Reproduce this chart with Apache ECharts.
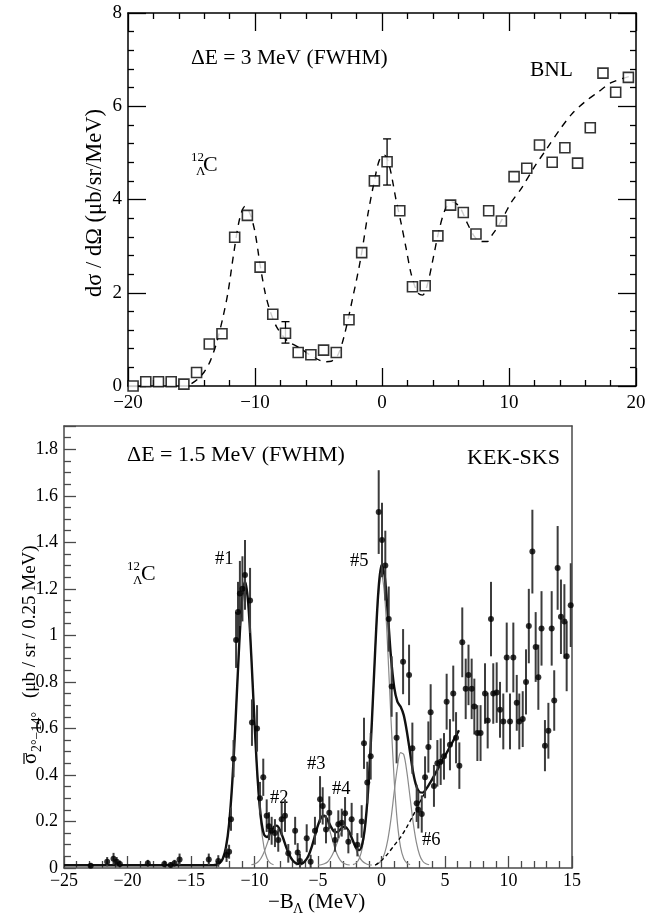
<!DOCTYPE html>
<html><head><meta charset="utf-8">
<script src="https://cdn.jsdelivr.net/npm/echarts@6/dist/echarts.min.js"></script>
<style>html,body{margin:0;padding:0;background:#fff}#c{width:646px;height:919px}</style>
</head><body><div id="c"></div><script>
// ---------- Top panel (BNL) data ----------
const bnlX = [-19.6,-18.6,-17.6,-16.6,-15.6,-14.6,-13.6,-12.6,-11.6,-10.6,
              -9.6,-8.6,-7.6,-6.6,-5.6,-4.6,-3.6,-2.6,-1.6,-0.6,
              0.4,1.4,2.4,3.4,4.4,5.4,6.4,7.4,8.4,9.4,
              10.4,11.4,12.4,13.4,14.4,15.4,16.4,17.4,18.4,19.4];
const bnlY = [0.00,0.09,0.09,0.09,0.04,0.29,0.90,1.12,3.19,3.66,
              2.55,1.54,1.13,0.72,0.67,0.77,0.72,1.42,2.86,4.40,
              4.81,3.76,2.13,2.15,3.22,3.88,3.72,3.26,3.76,3.54,
              4.49,4.67,5.17,4.80,5.11,4.78,5.54,6.71,6.30,6.62];
const bnlErrX  = [-7.6, 0.4];
const bnlErrLo = [0.92, 4.31];
const bnlErrHi = [1.38, 5.30];
const bnlFitX = [-15.0,-14.5,-14.0,-13.5,-13.0,-12.5,-12.1,-11.7,-11.2,-10.8,
                 -10.4,-10.0,-9.6,-9.2,-8.8,-8.3,-7.5,-6.5,-5.4,-4.5,
                 -4.0,-3.5,-3.0,-2.3,-1.7,-1.1,-0.6,-0.2,0.2,0.6,
                 1.1,1.5,1.9,2.3,2.8,3.2,3.6,4.0,4.5,5.0,
                 5.5,6.1,6.7,7.3,7.8,8.3,8.7,9.2,9.7,10.2,
                 11.0,12.0,13.0,14.0,15.0,16.0,17.0,18.0,19.0,19.6];
const bnlFitY = [0.05,0.15,0.30,0.55,0.95,1.50,2.05,2.80,3.60,3.85,
                 3.70,3.30,2.60,2.00,1.60,1.27,0.98,0.82,0.62,0.52,
                 0.53,0.65,1.05,1.90,2.70,3.70,4.40,4.85,4.95,4.70,
                 4.00,3.50,2.95,2.40,2.00,1.95,2.20,2.70,3.35,3.80,
                 3.95,3.85,3.50,3.20,3.10,3.10,3.25,3.45,3.70,3.95,
                 4.25,4.70,5.10,5.50,5.85,6.10,6.30,6.50,6.60,6.65];

// ---------- Bottom panel (KEK-SKS) data ----------
const kekX = [-22.9,-21.6,-21.1,-20.85,-20.6,-18.4,-17.1,-16.6,-16.3,-15.9,
              -13.6,-12.85,-12.2,-12.0,-11.85,-11.65,-11.45,-11.3,-11.15,-10.95,
              -10.75,-10.35,-10.2,-9.8,-9.57,-9.31,-9.04,-8.86,-8.65,-8.39,
              -8.13,-7.86,-7.6,-7.34,-6.8,-6.6,-6.42,-5.89,-5.58,-5.24,
              -4.84,-4.63,-4.37,-4.11,-3.66,-3.4,-3.13,-2.87,-2.61,-2.35,
              -1.9,-1.56,-1.38,-1.12,-0.85,-0.22,0.04,0.3,0.57,0.8,
              1.19,1.7,2.17,2.43,2.77,2.9,3.17,3.43,3.69,3.87,
              4.13,4.4,4.66,4.92,5.13,5.39,5.65,5.87,6.13,6.36,
              6.63,6.85,7.1,7.31,7.55,7.8,8.15,8.36,8.62,8.8,
              9.07,9.33,9.59,9.86,10.12,10.38,10.65,10.85,11.12,11.38,
              11.6,11.88,12.14,12.35,12.6,12.87,13.14,13.4,13.6,13.87,
              14.13,14.4,14.58,14.9];
const kekY = [0.01,0.027,0.04,0.027,0.017,0.02,0.017,0.013,0.02,0.037,
              0.037,0.03,0.056,0.07,0.21,0.47,0.98,1.10,1.18,1.20,
              1.26,1.15,0.625,0.60,0.30,0.39,0.225,0.18,0.16,0.15,
              0.12,0.21,0.225,0.063,0.16,0.067,0.03,0.128,0.027,0.16,
              0.295,0.267,0.166,0.238,0.12,0.188,0.195,0.235,0.113,0.21,
              0.10,0.20,0.536,0.367,0.48,1.53,1.41,1.30,1.07,0.78,
              0.56,0.887,0.83,0.515,0.278,0.25,0.232,0.39,0.52,0.67,
              0.353,0.45,0.457,0.48,0.715,0.53,0.75,0.56,0.44,0.97,
              0.77,0.83,0.77,0.694,0.58,0.58,0.75,0.634,1.07,0.75,
              0.754,0.68,0.63,0.905,0.63,0.905,0.71,0.63,0.64,0.80,
              1.04,1.36,0.95,0.82,1.03,0.526,0.59,1.03,0.72,1.29,
              1.08,1.06,0.91,1.13];
const kekErr = [0.012,0.02,0.025,0.02,0.015,0.015,0.015,0.012,0.015,0.025,
                0.025,0.025,0.03,0.03,0.05,0.08,0.12,0.13,0.14,0.14,
                0.15,0.14,0.10,0.10,0.07,0.08,0.07,0.06,0.06,0.06,
                0.05,0.07,0.07,0.04,0.06,0.04,0.03,0.06,0.03,0.06,
                0.10,0.08,0.06,0.07,0.05,0.06,0.06,0.07,0.05,0.07,
                0.05,0.07,0.11,0.09,0.10,0.18,0.16,0.15,0.14,0.13,
                0.11,0.14,0.13,0.11,0.08,0.08,0.08,0.09,0.11,0.12,
                0.09,0.10,0.10,0.10,0.12,0.11,0.12,0.11,0.10,0.15,
                0.13,0.13,0.13,0.12,0.12,0.12,0.13,0.12,0.16,0.13,
                0.13,0.12,0.12,0.15,0.12,0.15,0.12,0.12,0.12,0.14,
                0.16,0.18,0.15,0.14,0.16,0.11,0.12,0.16,0.13,0.18,
                0.16,0.16,0.15,0.18];

// total fit (thick black)
const fitX = [-25,-13.25,-13,-12.75,-12.5,-12.25,-12,-11.75,-11.5,-11.25,
              -11,-10.75,-10.5,-10.25,-10,-9.75,-9.5,-9.25,-9,-8.75,
              -8.5,-8.25,-8,-7.75,-7.5,-7.25,-7,-6.75,-6.5,-6.25,
              -6,-5.75,-5.5,-5.25,-5,-4.75,-4.5,-4.25,-4,-3.75,
              -3.5,-3.25,-3,-2.75,-2.5,-2.25,-2,-1.75,-1.5,-1.25,
              -1,-0.75,-0.5,-0.25,0,0.25,0.5,0.75,1,1.25,
              1.5,1.75,2,2.25,2.5,2.75,3,3.25,3.5,3.75,
              4,4.5,5,5.5,6,6.1];
const fitY = [0.012,0.012,0.014,0.021,0.040,0.088,0.190,0.368,0.622,0.909,
              1.142,1.232,1.142,0.909,0.627,0.381,0.219,0.144,0.133,0.154,
              0.176,0.182,0.164,0.129,0.089,0.056,0.033,0.021,0.018,0.019,
              0.031,0.053,0.090,0.137,0.184,0.218,0.225,0.207,0.179,0.158,
              0.154,0.165,0.177,0.173,0.150,0.117,0.087,0.077,0.107,0.202,
              0.379,0.638,0.933,1.186,1.303,1.256,1.091,0.904,0.777,0.715,
              0.694,0.657,0.586,0.496,0.408,0.351,0.326,0.324,0.338,0.359,
              0.382,0.432,0.482,0.532,0.582,0.592];
// individual peak components (thin gray)
const comp1X = [-13,-12.75,-12.5,-12.25,-12,-11.75,-11.5,-11.25,-11,-10.75,-10.5,-10.25,-10,-9.75,-9.5,-9.25,-9,-8.75,-8.5];
const comp1Y = [0.014,0.021,0.040,0.088,0.190,0.368,0.622,0.909,1.142,1.232,1.142,0.909,0.622,0.368,0.190,0.088,0.040,0.021,0.014];
const comp2X = [-10.25,-10,-9.75,-9.5,-9.25,-9,-8.75,-8.5,-8.25,-8,-7.75,-7.5,-7.25,-7,-6.75,-6.5,-6.25];
const comp2Y = [0.014,0.017,0.025,0.041,0.068,0.105,0.145,0.174,0.182,0.164,0.129,0.089,0.056,0.033,0.021,0.015,0.013];
const comp3X = [-6.75,-6.5,-6.25,-6,-5.75,-5.5,-5.25,-5,-4.75,-4.5,-4.25,-4,-3.75,-3.5,-3.25,-3,-2.75,-2.5];
const comp3Y = [0.013,0.015,0.019,0.031,0.053,0.090,0.137,0.184,0.216,0.219,0.193,0.147,0.099,0.059,0.034,0.021,0.015,0.013];
const comp4X = [-5,-4.75,-4.5,-4.25,-4,-3.75,-3.5,-3.25,-3,-2.75,-2.5,-2.25,-2,-1.75,-1.5,-1.25,-1,-0.75];
const comp4Y = [0.013,0.014,0.018,0.026,0.044,0.071,0.107,0.143,0.168,0.170,0.150,0.114,0.078,0.048,0.029,0.019,0.014,0.013];
const comp5X = [-2.25,-2,-1.75,-1.5,-1.25,-1,-0.75,-0.5,-0.25,0,0.25,0.5,0.75,1,1.25,1.5,1.75,2,2.25];
const comp5Y = [0.0145,0.021,0.041,0.090,0.195,0.377,0.637,0.931,1.169,1.262,1.169,0.931,0.637,0.377,0.195,0.090,0.041,0.021,0.0145];
const comp6X = [-0.5,-0.25,0,0.25,0.5,0.75,1,1.25,1.5,1.75,2,2.25,2.5,2.75,3,3.25,3.5,3.75];
const comp6Y = [0.014,0.019,0.033,0.064,0.122,0.212,0.327,0.432,0.496,0.488,0.412,0.303,0.193,0.109,0.056,0.029,0.018,0.014];
// continuum (dashed)
const bgX = [-0.5,0,0.5,1,1.5,2,2.5,3,3.5];
const bgY = [0.012,0.032,0.062,0.097,0.132,0.177,0.227,0.282,0.332];

// ---------- chart ----------
const SERIF = '"Liberation Serif", "Times New Roman", serif';
const fmt = v => v < 0 ? '\u2212' + Math.abs(v) : String(v);
const zip = (a, b) => a.map((x, i) => [x, b[i]]);

function makeAxis(grid, pos, o) {
  return Object.assign({
    type: 'value', gridIndex: grid, position: pos, scale: false,
    axisLine: { show: true, onZero: false, lineStyle: { color: o.color, width: 1.5 } },
    axisTick: { show: o.ticks, inside: true, length: o.major, lineStyle: { color: o.color, width: 1.3 } },
    minorTick: { show: o.ticks, splitNumber: o.minorSplit, length: o.minor, lineStyle: { color: o.color, width: 1.3 } },
    axisLabel: { show: o.labels, color: '#000', fontFamily: SERIF, fontSize: o.fs, margin: o.margin, formatter: fmt,
                 showMinLabel: true, showMaxLabel: o.showMax !== false, hideOverlap: false },
    splitLine: { show: false }, minorSplitLine: { show: false }
  }, o.range);
}

const chart = echarts.init(document.getElementById('c'), null, { renderer: 'canvas' });
const T = { color: '#000', ticks: true, major: 18, minor: 6, fs: 19 };
const B = { color: '#4a4a4a', ticks: true, major: 12, minor: 7, fs: 18 };
const BN = { color: '#4a4a4a', ticks: false, major: 0, minor: 0, fs: 18 };
const a = (...objs) => Object.assign({}, ...objs);
const topX = { min: -20, max: 20, interval: 10 };
const topY = { min: 0, max: 8, interval: 2 };
const botX = { min: -25, max: 15, interval: 5 };
const botY = { min: 0, max: 1.9, interval: 0.2 };

const option = {
  animation: false,
  backgroundColor: '#fff',
  grid: [
    { left: 128, top: 13, width: 508, height: 373, show: false, outerBoundsMode: 'none', containLabel: false },
    { left: 64, top: 426, width: 508, height: 442, show: false, outerBoundsMode: 'none', containLabel: false }
  ],
  xAxis: [
    makeAxis(0, 'bottom', a(T, { labels: true, margin: 8, minorSplit: 5, range: topX })),
    makeAxis(0, 'top', a(T, { labels: false, margin: 8, minorSplit: 5, range: topX })),
    makeAxis(1, 'bottom', a(B, { labels: true, margin: 4, minorSplit: 5, range: botX })),
    makeAxis(1, 'top', a(BN, { labels: false, margin: 4, minorSplit: 5, range: botX }))
  ],
  yAxis: [
    makeAxis(0, 'left', a(T, { labels: true, margin: 6, minorSplit: 5, range: topY })),
    makeAxis(0, 'right', a(T, { labels: false, margin: 6, minorSplit: 5, range: topY })),
    makeAxis(1, 'left', a(B, { labels: true, margin: 6, minorSplit: 4, showMax: false, range: botY })),
    makeAxis(1, 'right', a(BN, { labels: false, margin: 6, minorSplit: 4, range: botY }))
  ],
  series: [
    { type: 'line', xAxisIndex: 0, yAxisIndex: 0, data: zip(bnlFitX, bnlFitY), showSymbol: false, smooth: 0.3,
      lineStyle: { color: '#000', width: 1.4, type: [7, 6] }, z: 2, silent: true },
    { type: 'custom', xAxisIndex: 0, yAxisIndex: 0, silent: true, z: 3,
      data: bnlErrX.map((x, i) => [x, bnlErrLo[i], bnlErrHi[i]]), encode: { x: 0, y: [1, 2] },
      renderItem: (p, api) => {
        const a = api.coord([api.value(0), api.value(1)]), b = api.coord([api.value(0), api.value(2)]);
        const st = { stroke: '#000', lineWidth: 1.3 };
        return { type: 'group', children: [
          { type: 'line', shape: { x1: a[0], y1: a[1], x2: b[0], y2: b[1] }, style: st },
          { type: 'line', shape: { x1: a[0] - 4, y1: a[1], x2: a[0] + 4, y2: a[1] }, style: st },
          { type: 'line', shape: { x1: b[0] - 4, y1: b[1], x2: b[0] + 4, y2: b[1] }, style: st }
        ] };
      } },
    { type: 'scatter', xAxisIndex: 0, yAxisIndex: 0, data: zip(bnlX, bnlY), symbol: 'rect', symbolSize: 10,
      itemStyle: { color: '#fff', borderColor: '#000', borderWidth: 1.6 }, z: 5, silent: true },

    { type: 'line', xAxisIndex: 2, yAxisIndex: 2, data: zip(comp1X, comp1Y), showSymbol: false, smooth: 0.3, lineStyle: { color: '#8a8a8a', width: 1.2 }, z: 2, silent: true },
    { type: 'line', xAxisIndex: 2, yAxisIndex: 2, data: zip(comp2X, comp2Y), showSymbol: false, smooth: 0.3, lineStyle: { color: '#8a8a8a', width: 1.2 }, z: 2, silent: true },
    { type: 'line', xAxisIndex: 2, yAxisIndex: 2, data: zip(comp3X, comp3Y), showSymbol: false, smooth: 0.3, lineStyle: { color: '#8a8a8a', width: 1.2 }, z: 2, silent: true },
    { type: 'line', xAxisIndex: 2, yAxisIndex: 2, data: zip(comp4X, comp4Y), showSymbol: false, smooth: 0.3, lineStyle: { color: '#8a8a8a', width: 1.2 }, z: 2, silent: true },
    { type: 'line', xAxisIndex: 2, yAxisIndex: 2, data: zip(comp5X, comp5Y), showSymbol: false, smooth: 0.3, lineStyle: { color: '#8a8a8a', width: 1.2 }, z: 2, silent: true },
    { type: 'line', xAxisIndex: 2, yAxisIndex: 2, data: zip(comp6X, comp6Y), showSymbol: false, smooth: 0.3, lineStyle: { color: '#8a8a8a', width: 1.2 }, z: 2, silent: true },
    { type: 'line', xAxisIndex: 2, yAxisIndex: 2, data: zip(bgX, bgY), showSymbol: false, smooth: 0.3, lineStyle: { color: '#000', width: 1.4, type: [4, 3] }, z: 2, silent: true },
    { type: 'line', xAxisIndex: 2, yAxisIndex: 2, data: zip(fitX, fitY), showSymbol: false, smooth: 0.3, lineStyle: { color: '#111', width: 2.4 }, z: 3, silent: true },
    { type: 'custom', xAxisIndex: 2, yAxisIndex: 2, silent: true, z: 4,
      data: kekX.map((x, i) => [x, kekY[i], kekErr[i]]), encode: { x: 0, y: 1 },
      renderItem: (p, api) => {
        const x = api.value(0), y = api.value(1), e = api.value(2);
        const a = api.coord([x, Math.max(0, y - e)]), b = api.coord([x, y + e]);
        return { type: 'line', shape: { x1: a[0], y1: a[1], x2: b[0], y2: b[1] }, style: { stroke: '#3c3c3c', lineWidth: 2 } };
      } },
    { type: 'scatter', xAxisIndex: 2, yAxisIndex: 2, data: zip(kekX, kekY), symbol: 'circle', symbolSize: 6,
      itemStyle: { color: '#000' }, z: 5, silent: true }
  ],
  graphic: [
    // top panel texts
    { type: 'text', x: 191, y: 58, style: { text: '\u0394E = 3 MeV (FWHM)', font: '21.5px ' + SERIF, fill: '#000', verticalAlign: 'middle' } },
    { type: 'text', x: 530, y: 70, style: { text: 'BNL', font: '21.5px ' + SERIF, fill: '#000', verticalAlign: 'middle' } },
    { type: 'text', x: 191, y: 158, style: { text: '12', font: '13px ' + SERIF, fill: '#000', verticalAlign: 'middle' } },
    { type: 'text', x: 196, y: 172, style: { text: '\u039B', font: '13px ' + SERIF, fill: '#000', verticalAlign: 'middle' } },
    { type: 'text', x: 203, y: 165, style: { text: 'C', font: '22px ' + SERIF, fill: '#000', verticalAlign: 'middle' } },
    { type: 'text', x: 95, y: 203, rotation: Math.PI / 2, style: { text: 'd\u03C3 / d\u03A9 (\u03BCb/sr/MeV)', font: '22.5px ' + SERIF, fill: '#000', align: 'center', verticalAlign: 'middle' } },
    // bottom panel texts
    { type: 'text', x: 127, y: 455, style: { text: '\u0394E = 1.5 MeV (FWHM)', font: '22px ' + SERIF, fill: '#000', verticalAlign: 'middle' } },
    { type: 'text', x: 467, y: 458, style: { text: 'KEK-SKS', font: '22px ' + SERIF, fill: '#000', verticalAlign: 'middle' } },
    { type: 'text', x: 127, y: 567, style: { text: '12', font: '13px ' + SERIF, fill: '#000', verticalAlign: 'middle' } },
    { type: 'text', x: 133, y: 581, style: { text: '\u039B', font: '13px ' + SERIF, fill: '#000', verticalAlign: 'middle' } },
    { type: 'text', x: 141, y: 574, style: { text: 'C', font: '22px ' + SERIF, fill: '#000', verticalAlign: 'middle' } },
    { type: 'text', x: 215, y: 559, style: { text: '#1', font: '18.5px ' + SERIF, fill: '#000', verticalAlign: 'middle' } },
    { type: 'text', x: 350, y: 561, style: { text: '#5', font: '18.5px ' + SERIF, fill: '#000', verticalAlign: 'middle' } },
    { type: 'text', x: 270, y: 798, style: { text: '#2', font: '18.5px ' + SERIF, fill: '#000', verticalAlign: 'middle' } },
    { type: 'text', x: 307, y: 764, style: { text: '#3', font: '18.5px ' + SERIF, fill: '#000', verticalAlign: 'middle' } },
    { type: 'text', x: 332, y: 789, style: { text: '#4', font: '18.5px ' + SERIF, fill: '#000', verticalAlign: 'middle' } },
    { type: 'text', x: 422, y: 840, style: { text: '#6', font: '18.5px ' + SERIF, fill: '#000', verticalAlign: 'middle' } },
    // bottom y-axis title (rotated)
    { type: 'group', x: 30, y: 764, rotation: Math.PI / 2, children: [
      { type: 'text', x: 0, y: 0, style: { text: '\u03C3', font: '21px ' + SERIF, fill: '#000', verticalAlign: 'middle' } },
      { type: 'line', shape: { x1: 0, y1: -6, x2: 11, y2: -6 }, style: { stroke: '#000', lineWidth: 1.2 } },
      { type: 'text', x: 12, y: 7, style: { text: '2\u00B0\u221214\u00B0', font: '14px ' + SERIF, fill: '#000', verticalAlign: 'middle' } },
      { type: 'text', x: 66, y: 0, style: { text: '(\u03BCb / sr / 0.25 MeV)', font: '19px ' + SERIF, fill: '#000', verticalAlign: 'middle' } }
    ] },
    // bottom x-axis title
    { type: 'text', x: 268, y: 902, style: { text: '\u2212B', font: '21px ' + SERIF, fill: '#000', verticalAlign: 'middle' } },
    { type: 'text', x: 293, y: 909, style: { text: '\u039B', font: '14px ' + SERIF, fill: '#000', verticalAlign: 'middle' } },
    { type: 'text', x: 308, y: 902, style: { text: '(MeV)', font: '21px ' + SERIF, fill: '#000', verticalAlign: 'middle' } }
  ]
};
chart.setOption(option);
</script></body></html>
